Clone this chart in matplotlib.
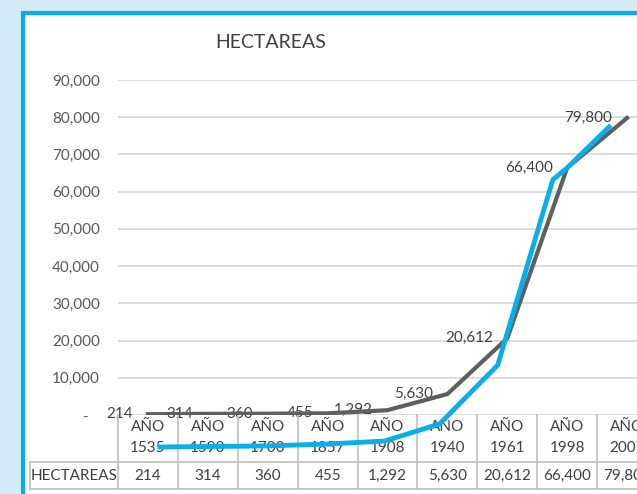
import matplotlib
matplotlib.use('Agg')
import matplotlib.pyplot as plt
from matplotlib.patches import Rectangle
from matplotlib.ticker import FuncFormatter, MultipleLocator

plt.rcParams['font.family'] = ['Lato', 'DejaVu Sans']

# datos
years = ['1535', '1590', '1700', '1857', '1908', '1940', '1961', '1998', '2007']
hectareas = [214, 314, 360, 455, 1292, 5630, 20612, 66400, 79800]

# trazo azul superpuesto (posicion en categorias, valor)
azul_x = [0.2, 2.0, 3.0, 3.95, 4.87, 5.84, 6.76, 7.0, 7.7]
azul_y = [-8600, -8300, -7800, -7000, -2400, 13400, 63200, 66400, 77400]

W, H = 637, 494
fig = plt.figure(figsize=(W / 100, H / 100), dpi=100, facecolor='#d5ebf8')
# marco blanco con borde azul
fig.patches.append(Rectangle((22.5 / W, -0.1), 1.2, (H - 13) / H + 0.1,
                             transform=fig.transFigure, facecolor='white',
                             edgecolor='#00aeef', linewidth=3, zorder=-10))

ax = fig.add_axes([118 / W, (H - 415) / H, 539 / W, 335 / H])
ax.set_facecolor('none')
ax.set_xlim(-0.5, 8.5)
ax.set_ylim(0, 90000)
ax.yaxis.set_major_locator(MultipleLocator(10000))
ax.yaxis.set_major_formatter(FuncFormatter(lambda v, p: '-   ' if v == 0 else f'{v:,.0f}'))
ax.yaxis.grid(True, color='#d9d9d9', lw=1.3)
ax.set_axisbelow(True)
for s in ax.spines.values():
    s.set_visible(False)
ax.set_xticks([])
ax.tick_params(axis='y', length=0, pad=13, labelsize=11, labelcolor='#595959')

# linea gris
ax.plot(range(len(years)), hectareas, color='#5f5f5f', lw=3, zorder=3)
for i, v in enumerate(hectareas):
    ax.annotate(f'{v:,}', (i, v), xytext=(-10.5, 0), textcoords='offset points',
                ha='right', va='center', fontsize=11, color='#404040',
                zorder=2, annotation_clip=False)

# tabla de datos
trans = ax.get_xaxis_transform()
y1, y2 = -47 / 335, -74 / 335
xl = -0.5 - 88 / 59.9
tc = '#bfbfbf'
for k in range(len(years) + 1):
    ax.plot([k - 0.5, k - 0.5], [0, y2], color=tc, lw=1.2, transform=trans, clip_on=False)
ax.plot([xl, 9], [y1, y1], color=tc, lw=1.2, transform=trans, clip_on=False)
ax.plot([xl, 9], [y2, y2], color=tc, lw=1.2, transform=trans, clip_on=False)
ax.plot([xl, xl], [y1, y2], color=tc, lw=1.2, transform=trans, clip_on=False)
ax.text((xl - 0.5) / 2, (y1 + y2) / 2, 'HECTAREAS', transform=trans, ha='center',
        va='center', fontsize=11, color='#404040', clip_on=False)
for i, (yr, v) in enumerate(zip(years, hectareas)):
    ax.text(i, -12 / 335, 'AÑO', transform=trans, ha='center', va='center',
            fontsize=11, color='#404040', clip_on=False)
    ax.text(i, -33 / 335, yr, transform=trans, ha='center', va='center',
            fontsize=11, color='#404040', clip_on=False)
    ax.text(i, (y1 + y2) / 2, f'{v:,}', transform=trans, ha='center', va='center',
            fontsize=11, color='#404040', clip_on=False)

# trazo azul
ax.plot(azul_x, azul_y, color='#0aaeea', lw=3.5, zorder=5, clip_on=False)

fig.text(271 / W, 1 - 43 / H, 'HECTAREAS', ha='center', va='center',
         fontsize=14, color='#404040')

fig.savefig('out.png', dpi=100)
